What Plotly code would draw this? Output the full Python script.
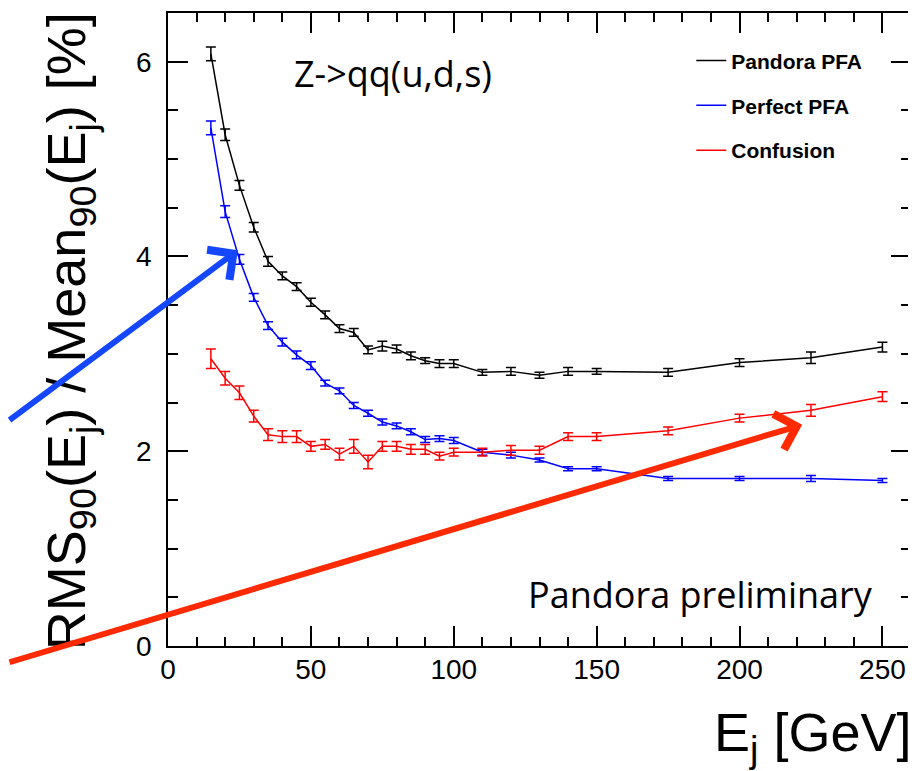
import plotly.graph_objects as go

# ---- data ----
energy = [15, 20, 25, 30, 35, 40, 45, 50, 55, 60, 65, 70, 75, 80, 85, 90, 95,
          100, 110, 120, 130, 140, 150, 175, 200, 225, 250]
pandora = [6.08, 5.25, 4.73, 4.30, 3.95, 3.80, 3.69, 3.53, 3.40, 3.26, 3.22, 3.04,
           3.08, 3.05, 2.98, 2.93, 2.90, 2.90, 2.81, 2.82, 2.78, 2.82, 2.82, 2.81,
           2.91, 2.96, 3.07]
pandora_err = [0.07, 0.06, 0.05, 0.05, 0.05, 0.04, 0.04, 0.04, 0.04, 0.04, 0.04, 0.04,
               0.05, 0.04, 0.04, 0.03, 0.04, 0.04, 0.03, 0.04, 0.03, 0.04, 0.03, 0.04,
               0.04, 0.06, 0.05]
perfect = [5.32, 4.46, 3.97, 3.58, 3.29, 3.12, 2.99, 2.88, 2.70, 2.62, 2.47, 2.39,
           2.30, 2.26, 2.20, 2.12, 2.13, 2.11, 1.99, 1.96, 1.91, 1.82, 1.82, 1.72,
           1.72, 1.72, 1.70]
perfect_err = [0.07, 0.06, 0.05, 0.04, 0.04, 0.04, 0.04, 0.04, 0.03, 0.03, 0.03, 0.03,
               0.03, 0.03, 0.03, 0.03, 0.03, 0.03, 0.03, 0.03, 0.02, 0.02, 0.02, 0.02,
               0.02, 0.03, 0.02]
confusion = [2.95, 2.75, 2.60, 2.36, 2.17, 2.15, 2.15, 2.05, 2.07, 1.97, 2.05, 1.89,
             2.05, 2.05, 2.02, 2.02, 1.95, 1.99, 1.99, 2.01, 2.01, 2.15, 2.15, 2.21,
             2.34, 2.42, 2.56]
confusion_err = [0.10, 0.07, 0.07, 0.06, 0.06, 0.06, 0.06, 0.05, 0.05, 0.06, 0.07, 0.07,
                 0.05, 0.05, 0.05, 0.05, 0.04, 0.04, 0.04, 0.05, 0.04, 0.04, 0.04, 0.04,
                 0.04, 0.06, 0.05]

series_names = ["Pandora PFA", "Perfect PFA", "Confusion"]
series_colors = ["#000000", "#0000ff", "#ff0000"]
x_ticks = [0, 50, 100, 150, 200, 250]
y_ticks = [0, 2, 4, 6]

# page has an 8px body margin: figure is drawn from page (8, 8)
OFF = 8
W, H = 916 - OFF, 771 - OFF
PL, PR, PT, PB = 168, 912, 11, 646   # plot box in page pixels
L, T = PL - OFF, PT - OFF
R = W - (PR - OFF)
B = H - (PB - OFF)
PW, PH = PR - PL, PB - PT


def px(xp):
    return (xp - PL) / PW


def py(yp):
    return (PB - yp) / PH


fig = go.Figure()
values = [pandora, perfect, confusion]
errors = [pandora_err, perfect_err, confusion_err]
legend_ids = ["legend", "legend2", "legend3"]
for name, col, vals, errs, lid in zip(series_names, series_colors, values, errors, legend_ids):
    fig.add_trace(go.Scatter(
        x=energy, y=vals, name="<b>" + name + "</b>", mode="lines",
        line=dict(color=col, width=1.5),
        error_y=dict(type="data", array=errs, visible=True, color=col,
                     thickness=1.5, width=5),
        legend=lid, showlegend=True,
    ))

axis_common = dict(
    showgrid=False, zeroline=False, showline=True, linecolor="black", linewidth=1.5,
    mirror="allticks", ticks="inside", ticklen=20, tickwidth=1.5, tickcolor="black",
    tickfont=dict(family="Liberation Sans, Arial, sans-serif", size=28, color="black"),
)

fig.update_layout(
    width=W, height=H,
    margin=dict(l=L, r=R, t=T, b=B),
    paper_bgcolor="white", plot_bgcolor="white",
    xaxis=dict(range=[0, 260], tickvals=x_ticks, ticktext=[str(v) for v in x_ticks],
               minor=dict(dtick=10, ticklen=9, ticks="inside", tickwidth=1.5, tickcolor="black"),
               ticklabelstandoff=-2, **axis_common),
    yaxis=dict(range=[0, 6.5], tickvals=y_ticks, ticktext=[str(v) for v in y_ticks],
               minor=dict(dtick=0.5, ticklen=10, ticks="inside", tickwidth=1.5, tickcolor="black"),
               ticklabelstandoff=9, **axis_common),
)

leg_font = dict(family="Liberation Sans, Arial, sans-serif", size=21, color="black")
leg_y = [59, 104, 149]
for lid, yy in zip(legend_ids, leg_y):
    fig.update_layout({lid: dict(x=px(692), y=py(yy), xanchor="left", yanchor="middle",
                                 bgcolor="rgba(255,255,255,0)", borderwidth=0,
                                 font=leg_font, itemwidth=30)})

big_font = dict(family="Liberation Sans, Arial, sans-serif", size=54, color="black")

# y-axis title
fig.add_annotation(
    text="RMS<sub>90</sub>(E<sub>j</sub>) / Mean<sub>90</sub>(E<sub>j</sub>) [%]",
    textangle=-90, xref="paper", yref="paper", x=px(70), y=py(330),
    xanchor="center", yanchor="middle", showarrow=False, font=big_font,
)
# x-axis title
fig.add_annotation(
    text="E<sub>j</sub> [GeV]", xref="paper", yref="paper", x=px(915), y=py(736),
    xanchor="right", yanchor="middle", showarrow=False, font=big_font,
)

cal_font = dict(family="'Open Sans', Lato, sans-serif", size=36, color="black")
fig.add_annotation(text="Z->qq(u,d,s)", xref="paper", yref="paper",
                   x=px(393), y=py(72), xanchor="center", yanchor="middle",
                   showarrow=False, font=cal_font)
fig.add_annotation(text="Pandora preliminary", xref="paper", yref="paper",
                   x=px(701), y=py(594), xanchor="center", yanchor="middle",
                   showarrow=False, font=cal_font)

# highlight arrows (tip in paper coords, tail offset in pixels)
arrows = [((238, 249), (0, 420), "#1447ff"), ((803, 424), (0, 662), "#ff2a00")]
for (tx, ty), (sx, sy), col in arrows:
    fig.add_annotation(
        text="", xref="paper", yref="paper", x=px(tx), y=py(ty),
        ax=sx - tx, ay=sy - ty, axref="pixel", ayref="pixel",
        showarrow=True, arrowhead=4, arrowsize=1.2, arrowwidth=6,
        arrowcolor=col, standoff=0, startstandoff=0,
    )

fig.write_html("out.html")
